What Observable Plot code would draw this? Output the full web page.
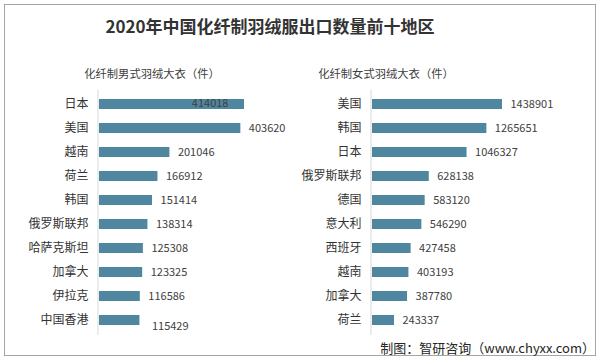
<!DOCTYPE html>
<html>
<head>
<meta charset="utf-8">
<script src="https://cdn.jsdelivr.net/npm/d3@7"></script>
<script src="https://cdn.jsdelivr.net/npm/@observablehq/plot@0.6"></script>
<style>
  html, body { margin: 0; padding: 0; background: #fff; }
  body { width: 600px; height: 361px; overflow: hidden; font-family: "Noto Sans CJK SC", "Noto Sans", sans-serif; }
  #wrap { position: relative; width: 600px; height: 361px; }
  #frame { position: absolute; left: 4px; top: 4px; width: 592px; height: 352px; border: 1px solid #a6a6a6; box-sizing: border-box; }
  .abs { position: absolute; white-space: nowrap; color: #333; }
  #title { left: 0; width: 540px; top: 14px; text-align: center; font-size: 17px; font-weight: bold; line-height: 24px; }
  .sub { top: 65px; font-size: 11.3px; line-height: 16px; text-align: center; width: 200px; color: #404040; }
  #sub1 { left: 52px; }
  #sub2 { left: 286px; }
  #foot { right: 5px; top: 339px; font-size: 13px; line-height: 18px; color: #262626; }
  #left, #right { position: absolute; top: 80px; }
  #left { left: 0; }
  #right { left: 300px; }
  svg { overflow: visible; }
</style>
</head>
<body>
<div id="wrap">
  <div id="frame"></div>
  <div id="title" class="abs">2020年中国化纤制羽绒服出口数量前十地区</div>
  <div id="sub1" class="abs sub">化纤制男式羽绒大衣（件）</div>
  <div id="sub2" class="abs sub">化纤制女式羽绒大衣（件）</div>
  <div id="left"></div>
  <div id="right"></div>
  <div id="foot" class="abs">制图：智研咨询（www.chyxx.com）</div>
</div>
<script>
const maleRegions = ["日本", "美国", "越南", "荷兰", "韩国", "俄罗斯联邦", "哈萨克斯坦", "加拿大", "伊拉克", "中国香港"];
const maleValues = [414018, 403620, 201046, 166912, 151414, 138314, 125308, 123325, 116586, 115429];
const femaleRegions = ["美国", "韩国", "日本", "俄罗斯联邦", "德国", "意大利", "西班牙", "越南", "加拿大", "荷兰"];
const femaleValues = [1438901, 1265651, 1046327, 628138, 583120, 546290, 427458, 403193, 387780, 243337];

const barColor = "#4f86a0";
const labelColor = "#404040";

function panel(regions, values, opts) {
  const data = regions.map((r, i) => ({r, v: values[i], i}));
  const last = data.length - 1;
  const marks = [
    Plot.barX(data, {x: "v", y: "r", fill: barColor}),
    Plot.ruleX([0], {stroke: "#d9d9d9", strokeWidth: 1, dx: -1.5}),
    Plot.text(data.filter(d => !(opts.insideFirst && d.i === 0) && !(opts.shiftLast && d.i === last)),
      {x: "v", y: "r", text: d => String(d.v), textAnchor: "start", dx: 8, fill: labelColor, fontSize: 11})
  ];
  if (opts.insideFirst) {
    marks.push(Plot.text(data.filter(d => d.i === 0),
      {x: "v", y: "r", text: d => String(d.v), textAnchor: "end", dx: -16, dy: -1, fill: labelColor, fontSize: 11}));
  }
  if (opts.shiftLast) {
    marks.push(Plot.text(data.filter(d => d.i === last),
      {x: "v", y: "r", text: d => String(d.v), textAnchor: "start", dx: 12, dy: 6, fill: labelColor, fontSize: 11}));
  }
  return Plot.plot({
    width: 300,
    height: 265,
    marginLeft: opts.marginLeft,
    marginRight: opts.marginRight,
    marginTop: 9.5,
    marginBottom: 10,
    x: {domain: [0, opts.max], axis: null},
    y: {domain: regions, paddingInner: 0.6, paddingOuter: 0.3, label: null, tickSize: 0, tickPadding: 11},
    style: {fontSize: "12px", fontFamily: "'Noto Sans CJK SC', sans-serif", color: "#333", background: "transparent"},
    marks
  });
}

document.getElementById("left").appendChild(
  panel(maleRegions, maleValues, {max: 550000, marginLeft: 99, marginRight: 8.4, insideFirst: true, shiftLast: true})
);
document.getElementById("right").appendChild(
  panel(femaleRegions, femaleValues, {max: 2000000, marginLeft: 72, marginRight: 47.3})
);
</script>
</body>
</html>
